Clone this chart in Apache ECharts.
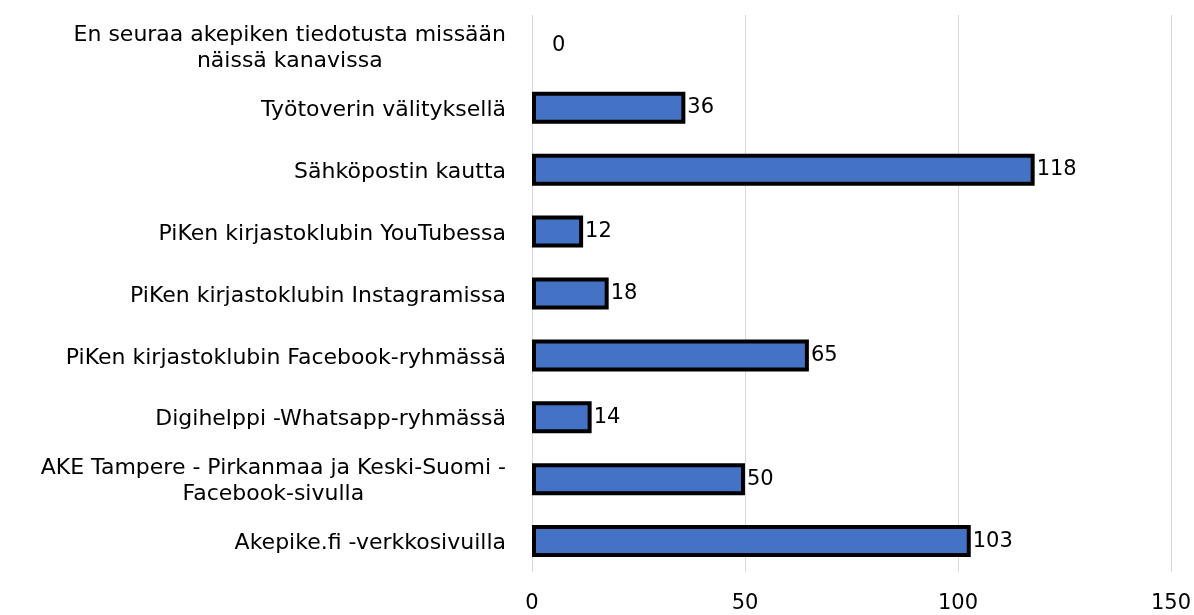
<!DOCTYPE html>
<html>
<head>
<meta charset="utf-8">
<script src="https://cdn.jsdelivr.net/npm/echarts@6/dist/echarts.min.js"></script>
<style>
  html, body { margin: 0; padding: 0; background: #fff; }
  #main { width: 1194px; height: 615px; }
</style>
</head>
<body>
<div id="main"></div>
<script>
// categories bottom -> top
var categories = [
  'Akepike.fi -verkkosivuilla',
  'AKE Tampere - Pirkanmaa ja Keski-Suomi -\nFacebook-sivulla',
  'Digihelppi -Whatsapp-ryhmässä',
  'PiKen kirjastoklubin Facebook-ryhmässä',
  'PiKen kirjastoklubin Instagramissa',
  'PiKen kirjastoklubin YouTubessa',
  'Sähköpostin kautta',
  'Työtoverin välityksellä',
  'En seuraa akepiken tiedotusta missään\nnäissä kanavissa'
];
var values = [103, 50, 14, 65, 18, 12, 118, 36, 0];
var xTicks = [0, 50, 100, 150];

var fontFam = 'DejaVu Sans';
var chartDom = document.getElementById('main');
var myChart = echarts.init(chartDom, null, { renderer: 'canvas' });

var data = values.map(function (v) {
  var item = { value: v };
  if (v === 0) {
    // excel puts the zero label a bit away from the axis, no outline
    item.label = { offset: [18, 0] };
    item.itemStyle = { borderWidth: 0 };
  }
  return item;
});

var option = {
  animation: false,
  grid: { left: 532, right: 22, top: 15, bottom: 43 },
  xAxis: {
    type: 'value',
    min: xTicks[0],
    max: xTicks[xTicks.length - 1],
    interval: 50,
    axisLine: { show: false },
    axisTick: { show: false },
    splitLine: { show: true, lineStyle: { color: '#d9d9d9', width: 1 } },
    axisLabel: {
      margin: 21,
      color: '#000',
      fontSize: 21,
      fontFamily: fontFam
    }
  },
  yAxis: {
    type: 'category',
    data: categories,
    axisLine: { show: false },
    axisTick: { show: false },
    axisLabel: {
      margin: 26,
      color: '#000',
      fontSize: 22,
      fontFamily: fontFam,
      lineHeight: 26,
      padding: [5, 0, 0, 0],
      formatter: function (val) {
        return val.split('\n').map(function (s) { return '{c|' + s + '}'; }).join('\n');
      },
      rich: {
        c: { align: 'center', fontSize: 22, fontFamily: fontFam, color: '#000', lineHeight: 26 }
      }
    }
  },
  series: [{
    type: 'bar',
    data: data,
    barWidth: 32,
    itemStyle: {
      color: '#4472c4',
      borderColor: '#000',
      borderWidth: 4
    },
    label: {
      show: true,
      position: 'right',
      distance: 2,
      color: '#000',
      fontSize: 21,
      fontFamily: fontFam
    }
  }]
};
myChart.setOption(option);
</script>
</body>
</html>
